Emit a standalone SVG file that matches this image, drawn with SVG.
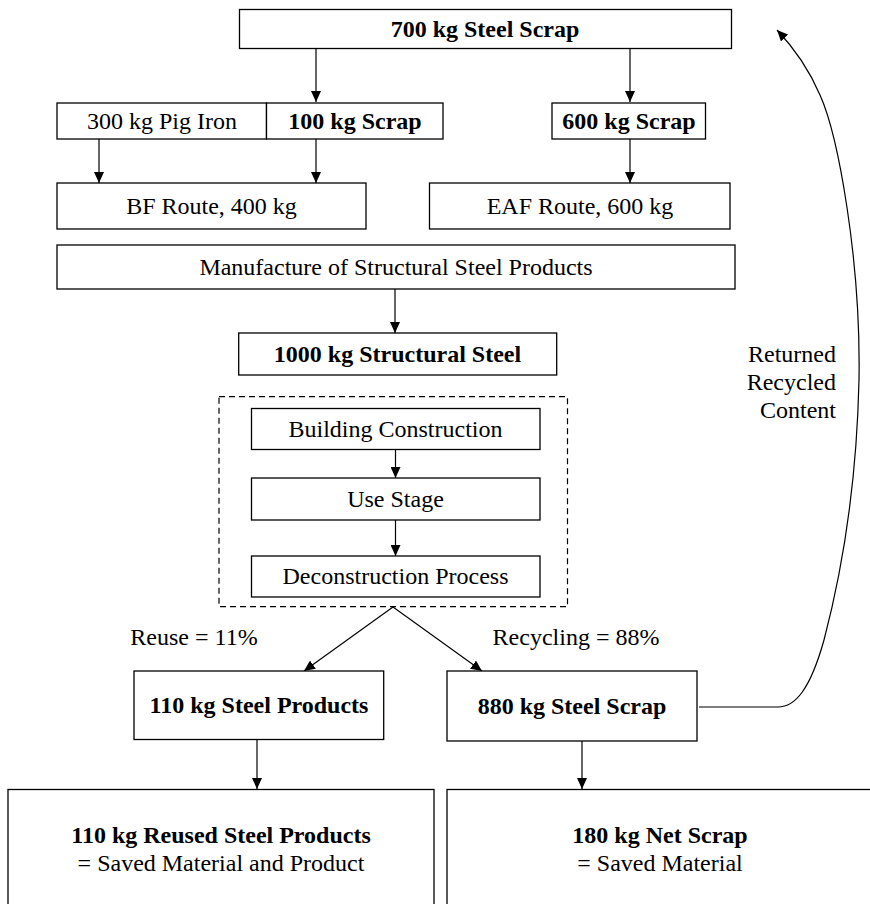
<svg xmlns="http://www.w3.org/2000/svg" width="870" height="904" viewBox="0 0 870 904">
<style>
.box{fill:#fff;stroke:#000;stroke-width:1.3}
.dash{fill:none;stroke:#000;stroke-width:1.2;stroke-dasharray:6 4}
.t{font-family:"Liberation Serif","Times New Roman",serif;font-size:24px;fill:#000;text-anchor:middle}
.b{font-weight:bold}
.r{text-anchor:end}
.c{fill:none;stroke:#000;stroke-width:1.2}
</style>
<defs>
<marker id="ah" markerUnits="userSpaceOnUse" markerWidth="12" markerHeight="10" refX="11" refY="5" orient="auto">
<path d="M0,0 L11,5 L0,10 Z" fill="#000"/>
</marker>
</defs>
<rect width="870" height="904" fill="#fff"/>
<g id="connectors">
<line class="c" x1="316" y1="49" x2="316" y2="102" marker-end="url(#ah)"/>
<line class="c" x1="630" y1="49" x2="630" y2="102" marker-end="url(#ah)"/>
<line class="c" x1="99" y1="139" x2="99" y2="183" marker-end="url(#ah)"/>
<line class="c" x1="316" y1="139" x2="316" y2="183" marker-end="url(#ah)"/>
<line class="c" x1="630" y1="139" x2="630" y2="183" marker-end="url(#ah)"/>
<line class="c" x1="395" y1="289" x2="395" y2="333" marker-end="url(#ah)"/>
<line class="c" x1="395.5" y1="449" x2="395.5" y2="478" marker-end="url(#ah)"/>
<line class="c" x1="395.5" y1="520" x2="395.5" y2="556" marker-end="url(#ah)"/>
<line class="c" x1="393" y1="607" x2="304" y2="671" marker-end="url(#ah)"/>
<line class="c" x1="393" y1="607" x2="482" y2="671" marker-end="url(#ah)"/>
<line class="c" x1="257" y1="740" x2="257" y2="789" marker-end="url(#ah)"/>
<line class="c" x1="582" y1="741" x2="582" y2="789" marker-end="url(#ah)"/>
<path class="c" d="M699 707 L778 707 C795 707 810 690 824 640 C845 560 857 470 859 380 C861 260 838 135 820 95 C811 74 796 50 777 30" marker-end="url(#ah)"/>
</g>
<g id="n-top"><rect class="box" x="239.5" y="9.5" width="492" height="39"/><text class="t b" x="485" y="37">700 kg Steel Scrap</text></g>
<g id="n-pig"><rect class="box" x="57" y="103" width="209.5" height="36"/><text class="t" x="162" y="129">300 kg Pig Iron</text></g>
<g id="n-scrap100"><rect class="box" x="266.5" y="103" width="176.5" height="36"/><text class="t b" x="355" y="129">100 kg Scrap</text></g>
<g id="n-scrap600"><rect class="box" x="552" y="103" width="153.5" height="36"/><text class="t b" x="629" y="129">600 kg Scrap</text></g>
<g id="n-bf"><rect class="box" x="57" y="183" width="309" height="46"/><text class="t" x="211.5" y="214">BF Route, 400 kg</text></g>
<g id="n-eaf"><rect class="box" x="429.5" y="183" width="300.5" height="46"/><text class="t" x="580" y="214">EAF Route, 600 kg</text></g>
<g id="n-manuf"><rect class="box" x="57" y="245" width="678" height="44"/><text class="t" x="396" y="275">Manufacture of Structural Steel Products</text></g>
<g id="n-struct"><rect class="box" x="238.7" y="333" width="318" height="42"/><text class="t b" x="397.5" y="362">1000 kg Structural Steel</text></g>
<g id="n-lifecycle"><rect class="dash" x="219" y="396.7" width="348.5" height="210"/></g>
<g id="n-build"><rect class="box" x="251.5" y="408.5" width="288.5" height="41"/><text class="t" x="395.5" y="437">Building Construction</text></g>
<g id="n-use"><rect class="box" x="251.5" y="478" width="288.5" height="42"/><text class="t" x="395.5" y="507">Use Stage</text></g>
<g id="n-decon"><rect class="box" x="251.5" y="556" width="288.5" height="41"/><text class="t" x="395.5" y="584">Deconstruction Process</text></g>
<text class="t" x="194" y="645">Reuse = 11%</text>
<text class="t" x="576" y="645">Recycling = 88%</text>
<g id="n-products"><rect class="box" x="134" y="671" width="249.7" height="68.5"/><text class="t b" x="259" y="713">110 kg Steel Products</text></g>
<g id="n-scrap880"><rect class="box" x="447" y="671" width="250" height="70"/><text class="t b" x="572" y="714">880 kg Steel Scrap</text></g>
<g id="n-reused"><rect class="box" x="8" y="789.5" width="426" height="130"/><text class="t b" x="221" y="843">110 kg Reused Steel Products</text><text class="t" x="221" y="871">= Saved Material and Product</text></g>
<g id="n-net"><rect class="box" x="447" y="789.5" width="430" height="130"/><text class="t b" x="660" y="843">180 kg Net Scrap</text><text class="t" x="660" y="871">= Saved Material</text></g>
<g id="label-returned"><text class="t r" x="836" y="362">Returned</text><text class="t r" x="836" y="390">Recycled</text><text class="t r" x="836" y="418">Content</text></g>
</svg>
